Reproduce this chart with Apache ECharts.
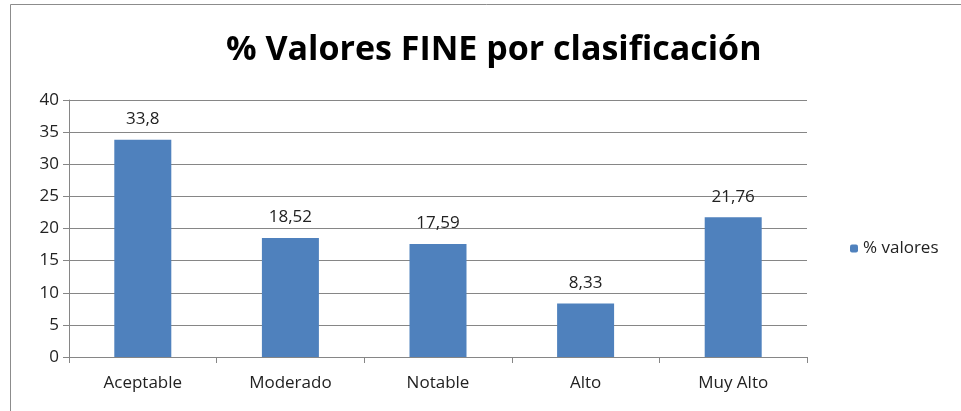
<!DOCTYPE html>
<html>
<head>
<meta charset="utf-8">
<script src="https://cdn.jsdelivr.net/npm/echarts@6/dist/echarts.min.js"></script>
<style>
  html, body { margin: 0; padding: 0; background: #fff; }
  #main { width: 961px; height: 411px; }
</style>
</head>
<body>
<div id="main"></div>
<script>
var categories = ['Aceptable', 'Moderado', 'Notable', 'Alto', 'Muy Alto'];
var valores = [33.8, 18.52, 17.59, 8.33, 21.76];
var seriesName = '% valores';

var chart = echarts.init(document.getElementById('main'));
var font = '"Open Sans", sans-serif';

chart.setOption({
  animation: false,
  backgroundColor: '#fff',
  graphic: [{
    type: 'rect',
    shape: { x: 10.5, y: 4.5, width: 1000, height: 500 },
    style: { fill: 'none', stroke: '#8c8c8c', lineWidth: 1 }
  }],
  title: {
    text: '% Valores FINE por clasificación',
    left: 221,
    top: 28,
    textStyle: { fontFamily: font, fontWeight: 'bold', fontSize: 34, color: '#000' }
  },
  legend: {
    data: [seriesName],
    orient: 'vertical',
    left: 845,
    top: 235,
    itemWidth: 8,
    itemHeight: 8,
    itemGap: 6,
    textStyle: { fontFamily: font, fontSize: 17, color: '#222' }
  },
  grid: { left: 69, top: 100, right: 154, bottom: 54 },
  xAxis: {
    type: 'category',
    data: categories,
    axisLine: { lineStyle: { color: '#868686' } },
    axisTick: { show: true, length: 6, lineStyle: { color: '#868686' } },
    axisLabel: { fontFamily: font, fontSize: 17, color: '#222', margin: 18 }
  },
  yAxis: {
    type: 'value',
    min: 0,
    max: 40,
    interval: 5,
    axisLine: { show: true, lineStyle: { color: '#868686' } },
    axisTick: { show: true, length: 6, lineStyle: { color: '#868686' } },
    splitLine: { lineStyle: { color: '#868686' } },
    axisLabel: { fontFamily: font, fontSize: 17, color: '#222', margin: 10 }
  },
  series: [{
    name: seriesName,
    type: 'bar',
    data: valores,
    barWidth: 57,
    itemStyle: { color: '#4f81bd' },
    label: {
      show: true,
      position: 'top',
      distance: 12,
      fontFamily: font,
      fontSize: 17,
      color: '#222',
      formatter: function (p) { return String(p.value).replace('.', ','); }
    }
  }]
});
</script>
</body>
</html>
